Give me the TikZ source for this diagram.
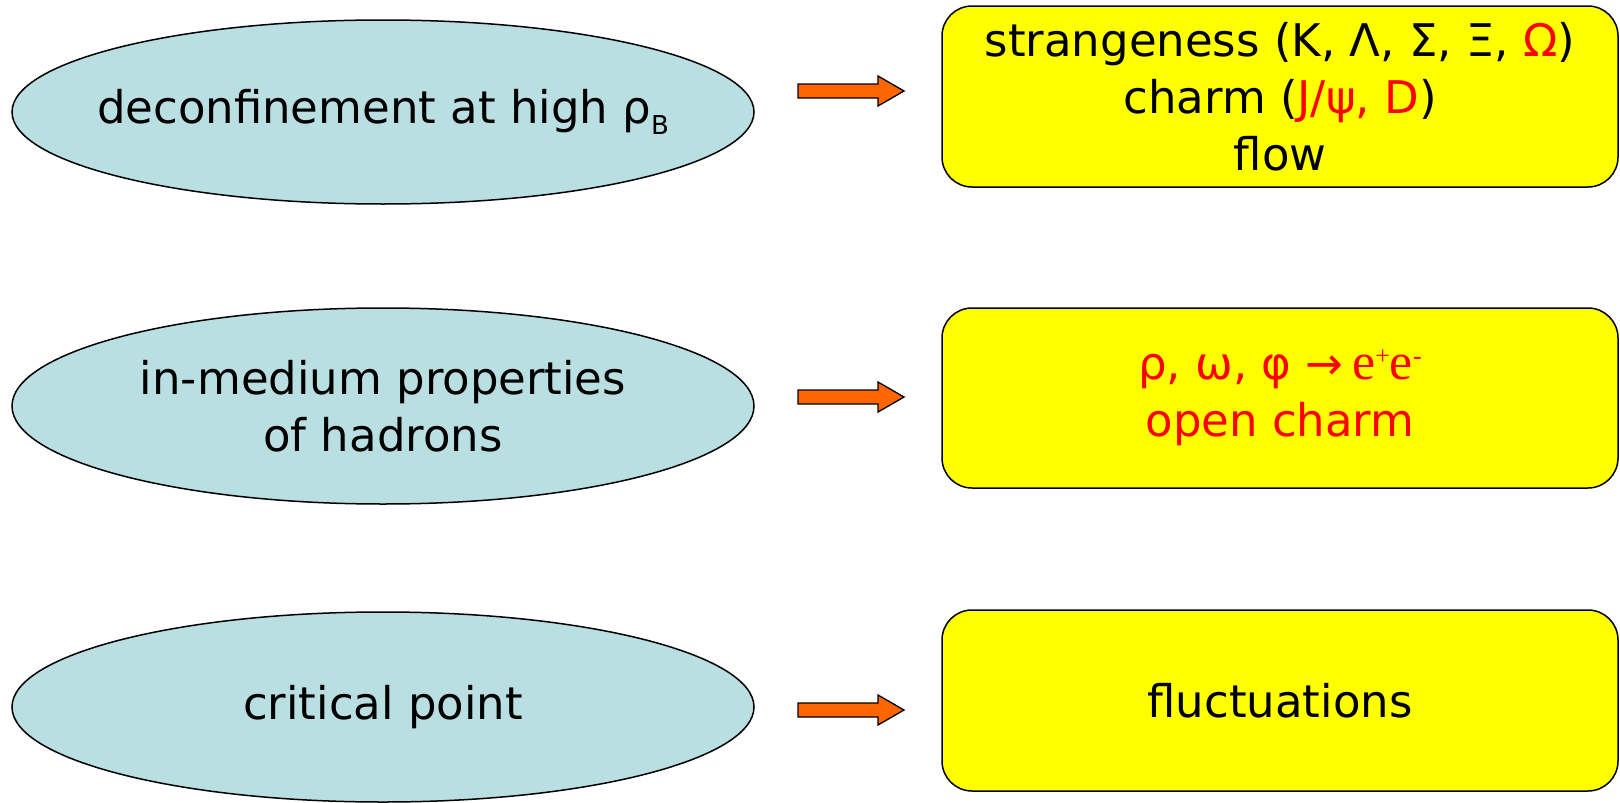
\documentclass[tikz,border=0pt]{standalone}
\usepackage{fontspec}
\setmainfont{DejaVu Sans}
\newfontfamily\serifb{Liberation Serif}
\usetikzlibrary{shapes.geometric}
\definecolor{ellfill}{RGB}{185,223,227}
\definecolor{arrfill}{RGB}{255,102,0}
\definecolor{txtred}{RGB}{255,0,0}
\definecolor{boxyellow}{RGB}{255,255,0}
\newcommand{\sps}[1]{\raisebox{0.3em}{\fontsize{26}{26}\selectfont #1}}
\newcommand{\sbs}[1]{\raisebox{-0.25em}{\fontsize{26}{26}\selectfont #1}}
\begin{document}
\begin{tikzpicture}[x=1pt,y=-1pt,
  oval/.style={ellipse, draw=black, line width=1.5pt, fill=ellfill,
    minimum width=742pt, inner ysep=0pt, inner xsep=-40pt, align=center,
    font=\fontsize{45}{57}\selectfont},
  resbox/.style={rectangle, rounded corners=30pt, draw=black, line width=1.5pt,
    fill=boxyellow, minimum width=676pt, inner sep=0pt, align=center,
    font=\fontsize{45}{57}\selectfont},
  blockarrow/.style={draw=black, line width=1.3pt, fill=arrfill, line join=miter}]
\useasboundingbox (0,0) rectangle (1620,803);

% ellipses
\node[oval, minimum height=184pt] (e1) at (383,112) {deconfinement at high ρ\sbs{B}};
\node[oval, minimum height=196pt] (e2) at (383,406) {in-medium properties\\of hadrons};
\node[oval, minimum height=190pt] (e3) at (383,707) {critical point};

% boxes
\node[resbox, minimum height=181pt] (b1) at (1280,96.5)
  {strangeness (K, Λ, Σ, Ξ, {\color{txtred}Ω})\\charm ({\color{txtred}J/ψ, D})\\flow};
\node[resbox, minimum height=180pt] (b2) at (1280,398)
  {\color{txtred}ρ, ω, φ →{\serifb\fontsize{52}{57}\selectfont\,e\sps{+}e\sps{-}}\\\color{txtred}open charm};
\node[resbox, minimum height=181pt] (b3) at (1280,700.5) {fluctuations};

% block arrows
\coordinate (a1) at (798,91);
\coordinate (a2) at (798,397);
\coordinate (a3) at (798,710);
\foreach \a in {a1,a2,a3}{
  \draw[blockarrow] (\a) ++(0,-7) -- ++(80,0) -- ++(0,-8) -- ++(26,15)
    -- ++(-26,15) -- ++(0,-8) -- ++(-80,0) -- cycle;
}
\end{tikzpicture}
\end{document}
